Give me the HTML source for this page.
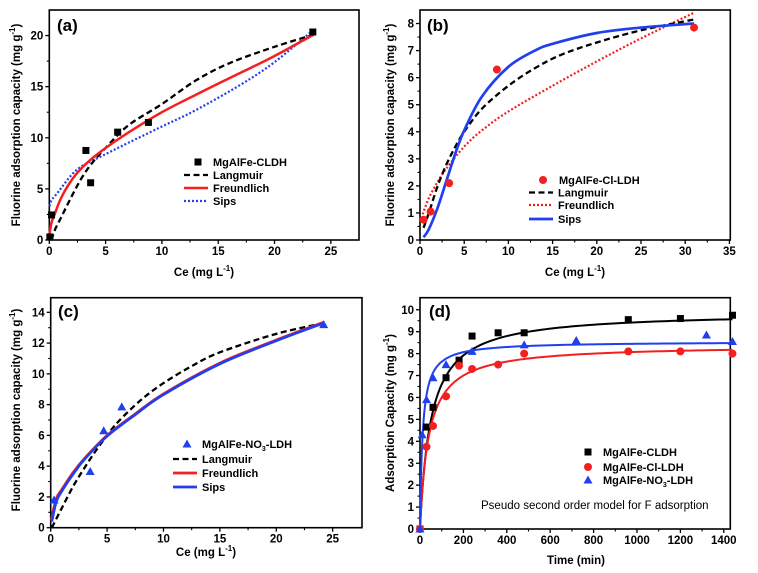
<!DOCTYPE html>
<html><head><meta charset="utf-8">
<style>
html,body{margin:0;padding:0;background:#fff;}
svg{display:block;font-family:"Liberation Sans",Arial,sans-serif;}
.tk{font-size:11.5px;font-weight:bold;fill:#000;}
.lab{font-size:11.5px;font-weight:bold;fill:#000;}
.leg{font-size:11px;font-weight:bold;fill:#000;}
.pl{font-size:17px;font-weight:bold;fill:#000;}
</style></head>
<body>
<svg id="fig" width="758" height="573" viewBox="0 0 758 573" xmlns="http://www.w3.org/2000/svg"></svg>
<script>
// ---------- Panel (a) data ----------
const aPtsX = [0.05, 0.2, 3.25, 3.67, 6.07, 8.8, 23.4];
const aPtsY = [0.3, 2.45, 8.76, 5.6, 10.55, 11.5, 20.35];
const aLangX = [0.2,0.5,1,2,3,4,5,7,10,13,16,20,23.5];
const aLangY = [0,1.0,2.1,4.3,6.3,7.8,9.0,11.2,13.3,15.6,17.3,18.9,20.1];
const aFreX = [0.02,0.2,0.5,1,1.7,2.5,3.5,5,7,10,13,15,18,20,23.5];
const aFreY = [0.6,1.7,2.6,4.0,5.4,6.6,7.7,9.0,10.5,12.5,14.2,15.3,16.9,18.0,20.1];
const aSipX = [0.02,0.2,0.5,1,2,3,5,7,10,13,17,20,23.5];
const aSipY = [3.3,3.9,4.3,5.0,6.4,7.3,8.4,9.5,11.1,12.7,15.2,17.4,20.6];
const aXTicks = [0,5,10,15,20,25];
const aYTicks = [0,5,10,15,20];
// ---------- Panel (b) data ----------
const bPtsX = [0.4,1.2,3.3,8.7,31];
const bPtsY = [0.75,1.05,2.1,6.3,7.85];
const bLangX = [0.4,1,2,3,4,5,7,10,13,16,20,25,31];
const bLangY = [0.45,1.0,2.0,2.8,3.45,4.0,4.85,5.7,6.35,6.85,7.3,7.75,8.15];
const bFreX = [0.3,1,2,3,5,7,10,15,20,25,31];
const bFreY = [0.95,1.55,2.15,2.65,3.45,4.05,4.75,5.7,6.6,7.45,8.4];
const bSipX = [0.4,1,2,3,4,5,7,10,13,15,20,25,31];
const bSipY = [0.1,0.4,1.2,2.2,3.2,4.05,5.3,6.4,7.0,7.25,7.65,7.85,8.0];
const bXTicks = [0,5,10,15,20,25,30,35];
const bYTicks = [0,1,2,3,4,5,6,7,8];
// ---------- Panel (c) data ----------
const cPtsX = [0.3,3.5,4.7,6.3,24.2];
const cPtsY = [1.8,3.65,6.3,7.85,13.2];
const cLangX = [0.1,1,2,3,4,5,6,8,10,12.5,15,20,24.2];
const cLangY = [0,1.3,2.7,3.9,5.0,6.0,6.9,8.3,9.4,10.5,11.4,12.6,13.3];
const cFreX = [0.05,0.5,1,2,3,5,7.5,10,15,20,24.2];
const cFreY = [0.5,1.9,2.5,3.6,4.5,6.0,7.4,8.7,10.7,12.2,13.35];
const cSipX = [0.1,0.5,1,2,3,5,7.5,10,15,20,24.2];
const cSipY = [0.4,1.7,2.4,3.5,4.45,5.95,7.35,8.65,10.65,12.15,13.3];
const cXTicks = [0,5,10,15,20,25];
const cYTicks = [0,2,4,6,8,10,12,14];
// ---------- Panel (d) data ----------
const dClT = [0,30,60,120,180,240,360,480,960,1200,1440];
const dClQ = [0,4.65,5.55,6.9,7.7,8.8,8.95,8.95,9.55,9.6,9.75];
const dChT = [0,30,60,120,180,240,360,480,960,1200,1440];
const dChQ = [0,3.75,4.7,6.05,7.45,7.3,7.5,8.0,8.1,8.1,8.0];
const dNoT = [0,10,30,60,120,240,480,720,1320,1440];
const dNoQ = [0,4.3,5.9,6.9,7.5,8.1,8.4,8.6,8.85,8.55];
// pseudo-second-order fit parameters: qe and half-time
const dFitQe = [9.9, 8.4, 8.55];
const dFitT0 = [50, 40, 12];
const dXTicks = [0,200,400,600,800,1000,1200,1400];
const dYTicks = [0,1,2,3,4,5,6,7,8,9,10];

const NS = "http://www.w3.org/2000/svg";
const fig = document.getElementById('fig');
function mk(tag, attrs, parent){
  const e = document.createElementNS(NS, tag);
  for (const k in attrs) e.setAttribute(k, attrs[k]);
  (parent||fig).appendChild(e);
  return e;
}
function panel(name, L, R, T, B, xmin, xmax, ymin, ymax){
  const g = mk('g', {});
  
  
  const sx = v => L + (v - xmin) / (xmax - xmin) * (R - L);
  const sy = v => B - (v - ymin) / (ymax - ymin) * (B - T);
  return {g, sx, sy, L, R, T, B};
}
function axes(p, xt, yt, xminor, yminor, xmaxv, ymaxv){
  const fr = mk('rect', {x:p.L, y:p.T, width:p.R-p.L, height:p.B-p.T, fill:'none', stroke:'#000', 'stroke-width':1.6}, p.g);
  
  
  xt.forEach(v => {
    const x = p.sx(v);
    mk('line', {x1:x, x2:x, y1:p.B, y2:p.B+4, stroke:'#000', 'stroke-width':1.3}, p.g);
    const t = mk('text', {x:x, y:p.B+15, 'text-anchor':'middle', class:'tk'}, p.g);
    t.textContent = v;
    
    
  });
  for (let i = 0; i < xt.length; i++) {
    const v = xt[i] + xminor;
    if (v < xmaxv) { const x = p.sx(v); mk('line', {x1:x, x2:x, y1:p.B, y2:p.B+2.5, stroke:'#000', 'stroke-width':1.1}, p.g); }
  }
  yt.forEach(v => {
    const y = p.sy(v);
    mk('line', {x1:p.L-4, x2:p.L, y1:y, y2:y, stroke:'#000', 'stroke-width':1.3}, p.g);
    const t = mk('text', {x:p.L-6, y:y+4, 'text-anchor':'end', class:'tk'}, p.g);
    t.textContent = v;
    
    
  });
  for (let i = 0; i < yt.length; i++) {
    const v = yt[i] + yminor;
    if (v < ymaxv) { const y = p.sy(v); mk('line', {x1:p.L-2.5, x2:p.L, y1:y, y2:y, stroke:'#000', 'stroke-width':1.1}, p.g); }
  }
}
function smoothPath(p, xs, ys){
  const P = xs.map((x,i)=>[p.sx(x), p.sy(ys[i])]);
  let d = 'M'+P[0][0].toFixed(2)+','+P[0][1].toFixed(2);
  for (let i=0;i<P.length-1;i++){
    const p0=P[Math.max(i-1,0)], p1=P[i], p2=P[i+1], p3=P[Math.min(i+2,P.length-1)];
    const c1=[p1[0]+(p2[0]-p0[0])/6, p1[1]+(p2[1]-p0[1])/6];
    const c2=[p2[0]-(p3[0]-p1[0])/6, p2[1]-(p3[1]-p1[1])/6];
    d+=' C'+c1[0].toFixed(2)+','+c1[1].toFixed(2)+' '+c2[0].toFixed(2)+','+c2[1].toFixed(2)+' '+p2[0].toFixed(2)+','+p2[1].toFixed(2);
  }
  return d;
}
function curve(p, xs, ys, color, dash, w, name){
  const e = mk('path', {d:smoothPath(p, xs, ys), fill:'none', stroke:color, 'stroke-width':w, 'stroke-dasharray':dash||'none'}, p.g);
  
  
}
function marker(g, shape, x, y, color, name){
  let e;
  if (shape==='sq') e = mk('rect', {x:x-3.5, y:y-3.5, width:7, height:7, fill:color}, g);
  else if (shape==='ci') e = mk('circle', {cx:x, cy:y, r:4, fill:color}, g);
  else e = mk('polygon', {points:(x)+','+(y-4.5)+' '+(x-4.5)+','+(y+3.5)+' '+(x+4.5)+','+(y+3.5), fill:color}, g);
  
  
}
function points(p, xs, ys, shape, color, name){
  xs.forEach((x,i)=> marker(p.g, shape, p.sx(x), p.sy(ys[i]), color, name));
}
function text(g, x, y, s, cls, name, extra){
  const t = mk('text', Object.assign({x:x, y:y, class:cls}, extra||{}), g);
  t.innerHTML = s;
  
  
  return t;
}
function legLine(g, x, y, color, dash, w, label, name){
  const l = mk('line', {x1:x-14, x2:x+10, y1:y, y2:y, stroke:color, 'stroke-width':w, 'stroke-dasharray':dash||'none'}, g);
  
  
  text(g, x+15, y+4, label, 'leg', name);
}
const supG = '(mg g<tspan font-size="8" dy="-5">-1</tspan><tspan dy="5">)</tspan>';
const supL = 'Ce (mg L<tspan font-size="8" dy="-5">-1</tspan><tspan dy="5">)</tspan>';
function ytitle(g, x, y, s){
  text(g, 0, 0, s, 'lab', 'y-axis-title', {transform:'translate('+x+','+y+') rotate(-90)', 'text-anchor':'middle'});
}
const DASH = '6,3.5', DOT = '2,2';
const BLK='#000', RED='#f22020', BLU='#1f3ff0';

// ---- (a)
const pa = panel('panel-a', 49.3, 359, 10, 240, 0, 27.5, 0, 22.5);
axes(pa, aXTicks, aYTicks, 2.5, 2.5, 27.5, 22.5);
curve(pa, aSipX, aSipY, BLU, DOT, 2.2, 'sips-curve');
curve(pa, aLangX, aLangY, BLK, DASH, 2.3, 'langmuir-curve');
curve(pa, aFreX, aFreY, RED, '', 2.5, 'freundlich-curve');
points(pa, aPtsX, aPtsY, 'sq', BLK, 'data-point');
text(pa.g, 57, 31, '(a)', 'pl', 'panel-label');
marker(pa.g, 'sq', 198, 162, BLK, 'legend-marker');
text(pa.g, 213, 166, 'MgAlFe-CLDH', 'leg', 'legend-entry');
legLine(pa.g, 198, 175, BLK, DASH, 2.3, 'Langmuir', 'legend-entry');
legLine(pa.g, 198, 188, RED, '', 2.5, 'Freundlich', 'legend-entry');
legLine(pa.g, 198, 201, BLU, DOT, 2.2, 'Sips', 'legend-entry');
text(pa.g, 204, 276, supL, 'lab', 'x-axis-title', {'text-anchor':'middle'});
ytitle(pa.g, 20, 125, 'Fluorine adsorption capacity '+supG);

// ---- (b)
const pb = panel('panel-b', 420, 730.3, 10, 240, 0, 35.1, 0, 8.5);
axes(pb, bXTicks, bYTicks, 2.5, 0.5, 35, 8.5);
curve(pb, bFreX, bFreY, RED, DOT, 2.2, 'freundlich-curve');
curve(pb, bLangX, bLangY, BLK, DASH, 2.3, 'langmuir-curve');
curve(pb, bSipX, bSipY, BLU, '', 2.7, 'sips-curve');
points(pb, bPtsX, bPtsY, 'ci', RED, 'data-point');
text(pb.g, 427, 31, '(b)', 'pl', 'panel-label');
marker(pb.g, 'ci', 543, 180, RED, 'legend-marker');
text(pb.g, 559, 184, 'MgAlFe-Cl-LDH', 'leg', 'legend-entry');
legLine(pb.g, 543, 192.5, BLK, DASH, 2.3, 'Langmuir', 'legend-entry');
legLine(pb.g, 543, 205, RED, DOT, 2.2, 'Freundlich', 'legend-entry');
legLine(pb.g, 543, 219, BLU, '', 2.7, 'Sips', 'legend-entry');
text(pb.g, 575, 276, supL, 'lab', 'x-axis-title', {'text-anchor':'middle'});
ytitle(pb.g, 394, 125, 'Fluorine adsorption capacity '+supG);

// ---- (c)
const pc = panel('panel-c', 50.7, 362, 297.7, 527.7, 0, 27.6, 0, 14.95);
axes(pc, cXTicks, cYTicks, 2.5, 1, 27.5, 14.9);
curve(pc, cLangX, cLangY, BLK, DASH, 2.3, 'langmuir-curve');
curve(pc, cFreX, cFreY, RED, '', 2.7, 'freundlich-curve');
curve(pc, cSipX, cSipY, BLU, '', 2.7, 'sips-curve');
points(pc, cPtsX, cPtsY, 'tr', BLU, 'data-point');
text(pc.g, 58, 317, '(c)', 'pl', 'panel-label');
marker(pc.g, 'tr', 187, 444, BLU, 'legend-marker');
text(pc.g, 202, 448, 'MgAlFe-NO<tspan font-size="7" dy="3">3</tspan><tspan dy="-3">-LDH</tspan>', 'leg', 'legend-entry');
legLine(pc.g, 187, 459, BLK, DASH, 2.3, 'Langmuir', 'legend-entry');
legLine(pc.g, 187, 473, RED, '', 2.7, 'Freundlich', 'legend-entry');
legLine(pc.g, 187, 487, BLU, '', 2.7, 'Sips', 'legend-entry');
text(pc.g, 206, 556, supL, 'lab', 'x-axis-title', {'text-anchor':'middle'});
ytitle(pc.g, 20, 410, 'Fluorine adsorption capacity '+supG);

// ---- (d)
const pd = panel('panel-d', 420, 730.3, 297.7, 529, 0, 1430, 0, 10.55);
axes(pd, dXTicks, dYTicks, 100, 0.5, 1430, 10.5);
const fitColors = [BLK, RED, BLU];
fitColors.forEach((c, k) => {
  const ts = [], qs = [];
  for (let t = 0; t <= 1440; t += (t < 100 ? 2 : 20)) { ts.push(t); qs.push(dFitQe[k]*t/(t+dFitT0[k])); }
  const d = ts.map((t,i)=> (i?'L':'M')+pd.sx(t).toFixed(2)+','+pd.sy(qs[i]).toFixed(2)).join(' ');
  const e = mk('path', {d:d, fill:'none', stroke:c, 'stroke-width':2}, pd.g);
  
  
});
points(pd, dClT, dClQ, 'sq', BLK, 'cldh-point');
points(pd, dChT, dChQ, 'ci', RED, 'cl-ldh-point');
points(pd, dNoT, dNoQ, 'tr', BLU, 'no3-ldh-point');
text(pd.g, 429, 317, '(d)', 'pl', 'panel-label');
marker(pd.g, 'sq', 588, 452, BLK, 'legend-marker');
text(pd.g, 603, 456, 'MgAlFe-CLDH', 'leg', 'legend-entry');
marker(pd.g, 'ci', 588, 467, RED, 'legend-marker');
text(pd.g, 603, 471, 'MgAlFe-Cl-LDH', 'leg', 'legend-entry');
marker(pd.g, 'tr', 588, 480, BLU, 'legend-marker');
text(pd.g, 603, 484, 'MgAlFe-NO<tspan font-size="7" dy="3">3</tspan><tspan dy="-3">-LDH</tspan>', 'leg', 'legend-entry');
text(pd.g, 481, 509, 'Pseudo second order model for F adsorption', 'tk', 'model-note', {style:'font-weight:normal'});
text(pd.g, 576, 564, 'Time (min)', 'lab', 'x-axis-title', {'text-anchor':'middle'});
ytitle(pd.g, 394, 413, 'Adsorption Capacity '+supG);
</script>
</body></html>
